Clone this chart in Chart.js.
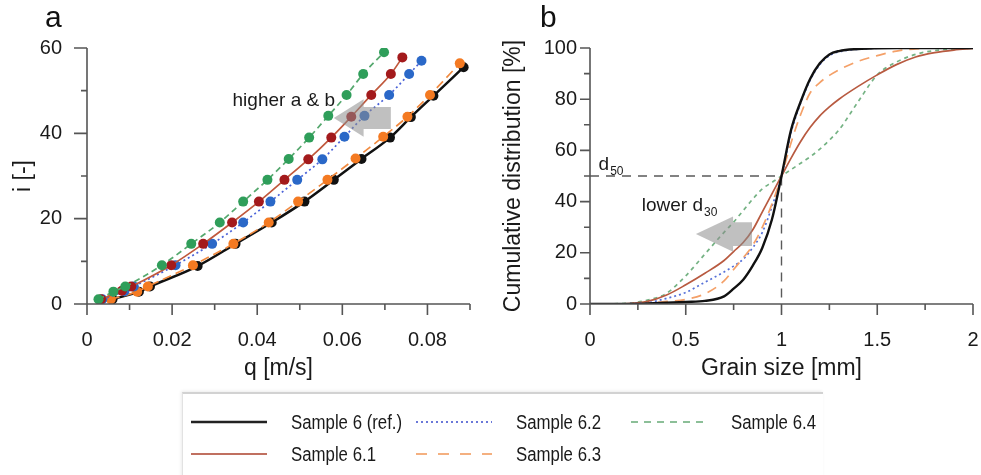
<!DOCTYPE html>
<html>
<head>
<meta charset="utf-8">
<script src="https://cdn.jsdelivr.net/npm/chart.js@4.4.1/dist/chart.umd.min.js"></script>
<style>
  html, body { margin: 0; padding: 0; background: #fff; }
  body { width: 981px; height: 475px; position: relative; overflow: hidden;
         font-family: 'Liberation Sans', Arial, sans-serif; color: #222; }
  .wrap { position: absolute; top: 0; height: 390px; }
  #wrapA { left: 0; width: 490px; }
  #wrapB { left: 490px; width: 491px; }
  .letter { position: absolute; top: 0px; font-size: 30px; color: #111; }
  #legend { position: absolute; left: 182px; top: 392px; width: 640px; height: 100px;
            border-top: 2px solid #d2d2d2; border-left: 1px solid #e2e2e2;
            box-shadow: -1px -1px 3px rgba(0,0,0,0.08); }
  .item { position: absolute; height: 24px; display: flex; align-items: center;
          font-size: 20px; color: #1a1a1a; white-space: nowrap; }
  .item svg { margin-right: 24px; }
  .item span { display: inline-block; transform: scaleX(0.84); transform-origin: left center; }
</style>
</head>
<body>
<div class="wrap" id="wrapA"><canvas id="chartA"></canvas></div>
<div class="wrap" id="wrapB"><canvas id="chartB"></canvas></div>
<div class="letter" style="left:45px;">a</div>
<div class="letter" style="left:540px;">b</div>
<div id="legend"></div>

<script>
// ---------- panel a : i [-] over q [m/s] ----------
const qRef = [0.0060, 0.0122, 0.0148, 0.0260, 0.0349, 0.0434, 0.0511, 0.0580, 0.0645, 0.0712, 0.0761, 0.0814, 0.0885];
const iRef = [1.1, 2.9, 4.1, 8.9, 14.1, 19.1, 24.0, 29.1, 34.0, 39.0, 43.8, 48.8, 55.5];
const q61 = [0.0033, 0.0082, 0.0104, 0.0198, 0.0273, 0.0341, 0.0404, 0.0464, 0.0520, 0.0574, 0.0621, 0.0668, 0.0714, 0.0741];
const i61 = [1.1, 3.1, 4.1, 9.1, 14.1, 19.1, 24.0, 29.1, 33.9, 39.0, 43.9, 49.0, 53.9, 57.8];
const q62 = [0.0036, 0.0088, 0.0110, 0.0208, 0.0294, 0.0367, 0.0431, 0.0494, 0.0553, 0.0605, 0.0652, 0.0710, 0.0757, 0.0786];
const i62 = [1.1, 3.0, 4.1, 9.1, 14.1, 19.1, 24.0, 29.1, 33.9, 39.2, 44.1, 49.0, 53.9, 57.0];
const q63 = [0.0056, 0.0118, 0.0143, 0.0249, 0.0344, 0.0427, 0.0496, 0.0565, 0.0631, 0.0696, 0.0753, 0.0806, 0.0876];
const i63 = [1.1, 2.9, 4.1, 9.1, 14.1, 19.1, 24.0, 29.1, 34.1, 39.2, 43.9, 49.0, 56.4];
const q64 = [0.0027, 0.0062, 0.0090, 0.0176, 0.0245, 0.0312, 0.0367, 0.0424, 0.0474, 0.0522, 0.0567, 0.0610, 0.0649, 0.0698];
const i64 = [1.1, 2.9, 4.1, 9.1, 14.1, 19.1, 24.0, 29.1, 34.0, 39.0, 44.1, 49.0, 53.9, 59.0];
const qTickLabels = [0, 0.02, 0.04, 0.06, 0.08];
const iTickLabels = [0, 20, 40, 60];

// ---------- panel b : cumulative distribution [%] over grain size [mm] ----------
const grainSize = [0, 0.2, 0.3, 0.4, 0.5, 0.6, 0.7, 0.75, 0.8, 0.85, 0.9, 0.95, 1.0, 1.05, 1.1, 1.15, 1.2, 1.25, 1.3, 1.4, 1.5, 1.6, 1.7, 1.8, 1.9, 2.0];
const cumRef = [0, 0, 0.2, 0.5, 0.8, 1.2, 3, 6, 9.5, 15, 22, 33, 50, 68, 79, 88, 94, 97.5, 98.8, 99.6, 99.9, 100, 100, 100, 100, 100];
const cum61 = [0, 0.2, 1, 3.5, 7.5, 12, 17, 20.5, 24, 29, 36, 43, 50, 57, 63.5, 69, 73.5, 77, 80, 85, 89.5, 93.5, 96.5, 98.2, 99.2, 99.8];
const cum62 = [0, 0.1, 0.5, 2.2, 4.5, 8.5, 12.5, 14.8, 17.5, 22, 28, 38, 50, 67, 78.5, 87.5, 93.5, 97, 98.5, 99.5, 99.9, 100, 100, 100, 100, 100];
const cum63 = [0, 0, 0.3, 1, 1.8, 4, 9, 13.5, 18, 23, 30, 39, 50, 63, 74, 82.5, 86.5, 89.3, 91.5, 94.8, 97, 98.8, 99.6, 100, 100, 100];
const cum64 = [0, 0.3, 1.5, 4.2, 11, 19.5, 28, 32, 36.5, 41, 45, 47.5, 50, 52.5, 55, 57.5, 60.5, 64, 68, 79, 89.5, 94.5, 97.5, 99, 99.6, 100];
const sizeTickLabels = [0, 0.5, 1, 1.5, 2];
const cumTickLabels = [0, 20, 40, 60, 80, 100];

const FONT = "'Liberation Sans', Arial, sans-serif";
const pts = (xs, ys) => xs.map((x, k) => ({ x: x, y: ys[k] }));
const isLabel = (list, v) => list.some(t => Math.abs(t - v) < 1e-9);
const fmt = v => String(+v.toFixed(2));

// axis lines with long (labelled) and short (minor) outward ticks
const axisFrame = {
    id: 'axisFrame',
    afterDraw(chart, args, opts) {
        const ctx = chart.ctx;
        const { left, right, top, bottom } = chart.chartArea;
        const xs = chart.scales.x, ys = chart.scales.y;
        ctx.save();
        ctx.strokeStyle = '#555';
        ctx.lineWidth = 1.6;
        ctx.beginPath();
        ctx.moveTo(left, top);
        ctx.lineTo(left, bottom);
        ctx.lineTo(right, bottom);
        xs.ticks.forEach(t => {
            const px = xs.getPixelForValue(t.value);
            ctx.moveTo(px, bottom);
            ctx.lineTo(px, bottom + (t.label ? 11 : 6));
        });
        ys.ticks.forEach(t => {
            const py = ys.getPixelForValue(t.value);
            ctx.moveTo(left, py);
            ctx.lineTo(left - (t.label ? opts.yMajor : 6), py);
        });
        ctx.stroke();
        ctx.restore();
    }
};

// grey arrow, given in data units: tip, head base, body end, half heights
const drawArrow = (chart, a) => {
    const xs = chart.scales.x, ys = chart.scales.y, ctx = chart.ctx;
    const X = v => xs.getPixelForValue(v), Y = v => ys.getPixelForValue(v);
    ctx.save();
    ctx.fillStyle = 'rgba(140,140,140,0.55)';
    ctx.beginPath();
    ctx.moveTo(X(a.tip), Y(a.mid));
    ctx.lineTo(X(a.head), Y(a.mid + a.headHalf));
    ctx.lineTo(X(a.head), Y(a.mid + a.bodyHalf));
    ctx.lineTo(X(a.end), Y(a.mid + a.bodyHalf));
    ctx.lineTo(X(a.end), Y(a.mid - a.bodyHalf));
    ctx.lineTo(X(a.head), Y(a.mid - a.bodyHalf));
    ctx.lineTo(X(a.head), Y(a.mid - a.headHalf));
    ctx.closePath();
    ctx.fill();
    ctx.restore();
};

const drawSubText = (chart, x, y, main, sub, size) => {
    const ctx = chart.ctx;
    const px = chart.scales.x.getPixelForValue(x), py = chart.scales.y.getPixelForValue(y);
    ctx.save();
    ctx.fillStyle = '#1a1a1a';
    ctx.textBaseline = 'alphabetic';
    ctx.font = size + 'px ' + FONT;
    ctx.fillText(main, px, py);
    if (sub) {
        const w = ctx.measureText(main).width;
        ctx.font = Math.round(size * 0.62) + 'px ' + FONT;
        ctx.fillText(sub, px + w + 1, py + size * 0.28);
    }
    ctx.restore();
};

const notesA = {
    id: 'notesA',
    afterDatasetsDraw(chart) {
        drawArrow(chart, { tip: 0.0580, head: 0.0650, end: 0.0714, mid: 43.6, headHalf: 4.4, bodyHalf: 2.6 });
        drawSubText(chart, 0.0342, 46.5, 'higher a & b', '', 19);
    }
};

const notesB = {
    id: 'notesB',
    beforeDatasetsDraw(chart) {
        const xs = chart.scales.x, ys = chart.scales.y, ctx = chart.ctx;
        ctx.save();
        ctx.strokeStyle = '#5a5a5a';
        ctx.lineWidth = 1.4;
        ctx.setLineDash([9, 7]);
        ctx.beginPath();
        ctx.moveTo(xs.getPixelForValue(0), ys.getPixelForValue(50));
        ctx.lineTo(xs.getPixelForValue(1), ys.getPixelForValue(50));
        ctx.lineTo(xs.getPixelForValue(1), ys.getPixelForValue(0));
        ctx.stroke();
        ctx.restore();
    },
    afterDatasetsDraw(chart) {
        drawArrow(chart, { tip: 0.553, head: 0.747, end: 0.846, mid: 27.3, headHalf: 6.9, bodyHalf: 4.6 });
        drawSubText(chart, 0.045, 52.5, 'd', '50', 19);
        drawSubText(chart, 0.27, 36.5, 'lower d', '30', 19);
    }
};

const scaleSet = (opts) => ({
    x: {
        type: 'linear', min: opts.xMin, max: opts.xMax,
        afterFit: s => { s.height = 86; s.paddingLeft = 0; s.paddingRight = 0; },
        grid: { display: false, drawTicks: true, tickLength: 11 },
        border: { display: false },
        ticks: {
            stepSize: opts.xStep, autoSkip: false, maxRotation: 0, padding: 13,
            color: '#1a1a1a', font: { family: FONT, size: 20 },
            callback: v => isLabel(opts.xLabels, v) ? fmt(v) : ''
        },
        title: { display: true, text: opts.xTitle, color: '#1a1a1a', font: { family: FONT, size: 23 }, padding: { top: 0, bottom: 8 } }
    },
    y: {
        type: 'linear', min: opts.yMin, max: opts.yMax,
        afterFit: s => { s.width = opts.yWidth; s.paddingTop = 0; s.paddingBottom = 0; },
        grid: { display: false, drawTicks: true, tickLength: opts.yMajor },
        border: { display: false },
        ticks: {
            stepSize: opts.yStep, autoSkip: false, padding: opts.yPad,
            color: '#1a1a1a', font: { family: FONT, size: 20 },
            callback: v => isLabel(opts.yLabels, v) ? fmt(v) : ''
        },
        title: { display: true, text: opts.yTitle, color: '#1a1a1a', font: { family: FONT, size: 23 }, padding: { top: opts.yTitlePad, bottom: 0 } }
    }
});

const baseOptions = (scales, padRight, yMajor) => ({
    responsive: true,
    maintainAspectRatio: false,
    animation: false,
    layout: { padding: { left: 0, top: 48, right: padRight, bottom: 0 } },
    plugins: { legend: { display: false }, tooltip: { enabled: false }, axisFrame: { yMajor: yMajor } },
    scales: scales
});

const seriesA = (label, q, i, line, marker, dash, width, order) => ({
    label: label,
    data: pts(q, i),
    showLine: true,
    borderColor: line,
    borderWidth: width,
    borderDash: dash,
    cubicInterpolationMode: 'monotone',
    pointRadius: 5,
    pointBorderWidth: 0,
    pointBackgroundColor: marker,
    order: order
});

new Chart(document.getElementById('chartA'), {
    type: 'line',
    data: {
        datasets: [
            seriesA('Sample 6 (ref.)', qRef, iRef, '#111111', '#111111', [], 2.5, 5),
            seriesA('Sample 6.3', q63, i63, '#f08a40', '#f47a22', [9, 5], 1.7, 4),
            seriesA('Sample 6.2', q62, i62, '#4a62d8', '#2a68c8', [2, 3], 1.7, 3),
            seriesA('Sample 6.1', q61, i61, '#c0583c', '#a31a1c', [], 1.7, 2),
            seriesA('Sample 6.4', q64, i64, '#55a86e', '#2f9e5a', [6, 4], 1.7, 1)
        ]
    },
    options: baseOptions(scaleSet({
        xMin: 0, xMax: 0.09, xStep: 0.01, xLabels: qTickLabels, xTitle: 'q [m/s]',
        yMin: 0, yMax: 60, yStep: 10, yLabels: iTickLabels, yTitle: 'i [-]',
        yWidth: 87, yTitlePad: 10, yPad: 12, yMajor: 13
    }), 20, 13),
    plugins: [axisFrame, notesA]
});

const seriesB = (label, cum, color, dash, width, order) => ({
    label: label,
    data: pts(grainSize, cum),
    borderColor: color,
    borderWidth: width,
    borderDash: dash,
    cubicInterpolationMode: 'monotone',
    pointRadius: 0,
    order: order
});

new Chart(document.getElementById('chartB'), {
    type: 'line',
    data: {
        datasets: [
            seriesB('Sample 6 (ref.)', cumRef, '#111111', [], 2.4, 1),
            seriesB('Sample 6.1', cum61, '#b85a40', [], 1.7, 4),
            seriesB('Sample 6.2', cum62, '#5570d8', [2, 3], 1.7, 3),
            seriesB('Sample 6.3', cum63, '#f4a068', [10, 7], 1.7, 2),
            seriesB('Sample 6.4', cum64, '#74b283', [4, 4], 1.7, 5)
        ]
    },
    options: baseOptions(scaleSet({
        xMin: 0, xMax: 2, xStep: 0.25, xLabels: sizeTickLabels, xTitle: 'Grain size [mm]',
        yMin: 0, yMax: 100, yStep: 10, yLabels: cumTickLabels, yTitle: 'Cumulative distribution [%]',
        yWidth: 100, yTitlePad: 10, yPad: 3, yMajor: 10
    }), 8, 10),
    plugins: [axisFrame, notesB]
});

// ---------- legend (html) ----------
const legendItems = [
    { label: 'Sample 6 (ref.)', color: '#222', dash: '', width: 2.6, left: 8, top: 16 },
    { label: 'Sample 6.2', color: '#6a78d8', dash: '2 3', width: 1.8, left: 233, top: 16 },
    { label: 'Sample 6.4', color: '#8cbf98', dash: '7 6', width: 1.8, left: 448, top: 16 },
    { label: 'Sample 6.1', color: '#c07060', dash: '', width: 2, left: 8, top: 48 },
    { label: 'Sample 6.3', color: '#f4b080', dash: '11 11', width: 2, left: 233, top: 48 }
];
const legendBox = document.getElementById('legend');
legendItems.forEach(it => {
    const d = document.createElement('div');
    d.className = 'item';
    d.style.left = it.left + 'px';
    d.style.top = it.top + 'px';
    d.innerHTML = '<svg width="76" height="6"><line x1="0" y1="3" x2="76" y2="3" stroke="' + it.color +
        '" stroke-width="' + it.width + '"' + (it.dash ? ' stroke-dasharray="' + it.dash + '"' : '') + '/></svg>' +
        '<span>' + it.label + '</span>';
    legendBox.appendChild(d);
});
</script>
</body>
</html>
